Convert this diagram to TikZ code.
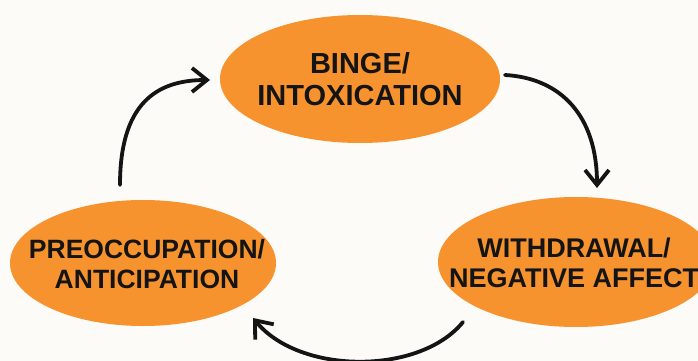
\documentclass[tikz,border=0pt]{standalone}
\usepackage{fontspec}
\setmainfont{Liberation Sans}
\usetikzlibrary{shapes.geometric,arrows.meta}
\definecolor{bgc}{HTML}{FDFBF7}
\definecolor{orng}{HTML}{F7932F}
\definecolor{ink}{HTML}{141414}
\tikzset{
  stage/.style={ellipse, fill=orng, inner sep=0pt},
  stagetext/.style={text=ink, align=center, inner sep=0pt},
  cyc/.style={line width=3.8pt, draw=ink, line cap=round, -{Straight Barb[length=15pt,width=24pt]}}
}
\begin{document}
\begin{tikzpicture}[x=1pt,y=-1pt]
\useasboundingbox (0,0) rectangle (698,361);
\clip (0,0) rectangle (698,361);
\fill[bgc] (0,0) rectangle (698,361);
\node[stage, minimum width=280pt, minimum height=128pt] (binge) at (360,79) {};
\node[stagetext, font=\bfseries\fontsize{29}{32}\selectfont] (bingeT) at (360,79) {BINGE/\\INTOXICATION};
\node[stage, minimum width=266pt, minimum height=126pt] (preo) at (143,263) {};
\node[stagetext, font=\bfseries\fontsize{26.5}{30}\selectfont] (preoT) at (147,264) {PREOCCUPATION/\\ANTICIPATION};
\node[stage, minimum width=276pt, minimum height=130pt] (withd) at (576,262) {};
\node[stagetext, font=\bfseries\fontsize{27}{30}\selectfont] (withdT) at (574,263) {WITHDRAWAL/\\NEGATIVE AFFECT};
\coordinate (a1s) at (120,185);
\coordinate (a1e) at (210,80);
\coordinate (a2s) at (505,75);
\coordinate (a2e) at (597,188);
\coordinate (a3s) at (463,322);
\coordinate (a3e) at (253,318);
\draw[cyc] (a1s) .. controls (120,105) and (155,80) .. (a1e);
\draw[cyc] (a2s) .. controls (560,78) and (597,115) .. (a2e);
\draw[cyc] (a3s) .. controls (420,375) and (300,375) .. (a3e);
\end{tikzpicture}
\end{document}
